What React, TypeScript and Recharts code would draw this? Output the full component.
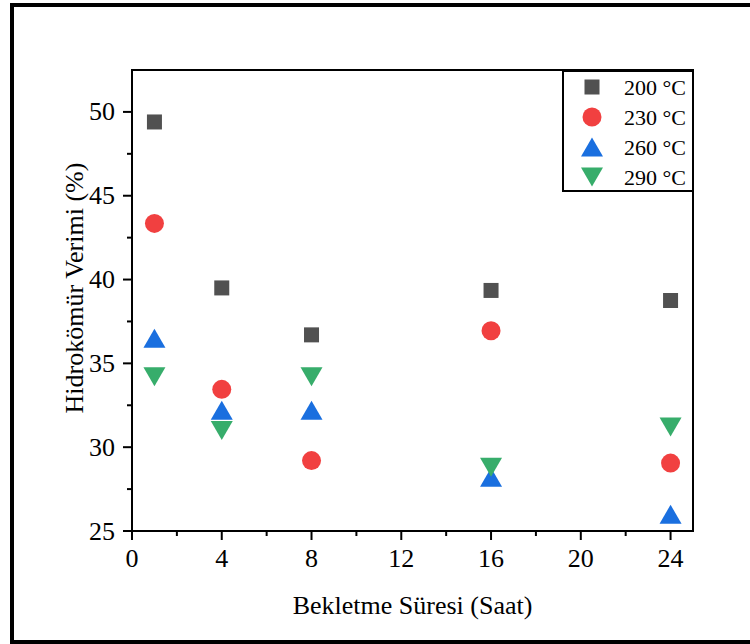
import { Legend, ReferenceArea, Scatter, ScatterChart, XAxis, YAxis } from 'recharts';

const hours = [1, 4, 8, 16, 24];
const y200 = [49.4, 39.5, 36.7, 39.35, 38.75];
const y230 = [43.35, 33.45, 29.2, 36.95, 29.05];
const y260 = [36.5, 32.2, 32.2, 28.2, 26.0];
const y290 = [34.2, 31.0, 34.2, 28.8, 31.2];

const xTicks = [0, 2, 4, 6, 8, 10, 12, 14, 16, 18, 20, 22, 24];
const yTicks = [25, 27.5, 30, 32.5, 35, 37.5, 40, 42.5, 45, 47.5, 50];

const font = '"Liberation Serif", "Times New Roman", serif';

type Shape = 'square' | 'circle' | 'up' | 'down';

const series: { name: string; values: number[]; color: string; shape: Shape }[] = [
  { name: '200 °C', values: y200, color: '#515151', shape: 'square' },
  { name: '230 °C', values: y230, color: '#F14040', shape: 'circle' },
  { name: '260 °C', values: y260, color: '#1A6FDF', shape: 'up' },
  { name: '290 °C', values: y290, color: '#37AD6B', shape: 'down' },
];

function Marker({ cx, cy, color, shape }: { cx: number; cy: number; color: string; shape: Shape }) {
  if (shape === 'square') return <rect x={cx - 7.5} y={cy - 7.5} width={15} height={15} fill={color} />;
  if (shape === 'circle') return <circle cx={cx} cy={cy} r={9.5} fill={color} />;
  if (shape === 'up') return <polygon points={`${cx - 11},${cy + 9.5} ${cx + 11},${cy + 9.5} ${cx},${cy - 9.5}`} fill={color} />;
  return <polygon points={`${cx - 11},${cy - 9.5} ${cx + 11},${cy - 9.5} ${cx},${cy + 9.5}`} fill={color} />;
}

function XTick({ x, y, payload }: any) {
  const major = payload.value % 4 === 0;
  return (
    <g>
      <line x1={x} x2={x} y1={y} y2={y + (major ? 9 : 5)} stroke="#000" strokeWidth={2} />
      {major && (
        <text x={x} y={y + 27} textAnchor="middle" dominantBaseline="central" fontSize={26} fontFamily={font} fill="#000">
          {payload.value}
        </text>
      )}
    </g>
  );
}

function YTick({ x, y, payload }: any) {
  const major = payload.value % 5 === 0;
  return (
    <g>
      <line x1={x - (major ? 9 : 5)} x2={x} y1={y} y2={y} stroke="#000" strokeWidth={2} />
      {major && (
        <text x={x - 17} y={y} textAnchor="end" dominantBaseline="central" fontSize={26} fontFamily={font} fill="#000">
          {payload.value}
        </text>
      )}
    </g>
  );
}

function LegendBox() {
  return (
    <svg width={132} height={122} style={{ display: 'block' }}>
      <rect x={1} y={1} width={130} height={120} fill="#fff" stroke="#000" strokeWidth={2} />
      {series.map((s, i) => (
        <g key={s.name}>
          <Marker cx={30} cy={17 + i * 30} color={s.color} shape={s.shape} />
          <text x={62} y={17 + i * 30} dominantBaseline="central" fontSize={22} fontFamily={font} fill="#000">
            {s.name}
          </text>
        </g>
      ))}
    </svg>
  );
}

export default function App() {
  return (
    <div style={{ position: 'absolute', left: 0, top: 0, width: 750, height: 644, background: '#fff' }}>
      <div
        style={{
          position: 'absolute',
          left: 10,
          top: 3,
          width: 740,
          height: 641,
          boxSizing: 'border-box',
          borderLeft: '4px solid #000',
          borderTop: '4px solid #000',
          borderBottom: '4px solid #000',
        }}
      />
      <ScatterChart width={750} height={644} margin={{ top: 70, right: 57, left: 0, bottom: 0 }} style={{ position: 'absolute', left: 0, top: 0 }}>
        <ReferenceArea x1={0} x2={25} y1={25} y2={52.5} fill="none" stroke="#000" strokeWidth={2} ifOverflow="extendDomain" />
        <XAxis
          type="number"
          dataKey="x"
          domain={[0, 25]}
          ticks={xTicks}
          interval={0}
          height={113}
          tickSize={0}
          tickMargin={0}
          tickLine={false}
          axisLine={{ stroke: '#000', strokeWidth: 2 }}
          tick={<XTick />}
          label={(p: any) => (
            <text x={p.viewBox.x + p.viewBox.width / 2} y={614} textAnchor="middle" fontSize={26} fontFamily={font} fill="#000">
              Bekletme Süresi (Saat)
            </text>
          )}
        />
        <YAxis
          type="number"
          dataKey="y"
          domain={[25, 52.5]}
          ticks={yTicks}
          interval={0}
          width={132}
          tickSize={0}
          tickMargin={0}
          tickLine={false}
          axisLine={{ stroke: '#000', strokeWidth: 2 }}
          tick={<YTick />}
          label={() => (
            <text x={83} y={288} transform="rotate(-90 83 288)" textAnchor="middle" fontSize={26} fontFamily={font} fill="#000">
              Hidrokömür Verimi (%)
            </text>
          )}
        />
        <Legend
          layout="vertical"
          align="center"
          verticalAlign="middle"
          wrapperStyle={{ left: 562, top: 70, width: 132, height: 122 }}
          content={() => <LegendBox />}
        />
        {series.map((s) => (
          <Scatter
            key={s.name}
            name={s.name}
            data={hours.map((h, i) => ({ x: h, y: s.values[i] }))}
            fill={s.color}
            isAnimationActive={false}
            shape={(p: any) => <Marker cx={p.cx} cy={p.cy} color={s.color} shape={s.shape} />}
          />
        ))}
      </ScatterChart>
    </div>
  );
}
